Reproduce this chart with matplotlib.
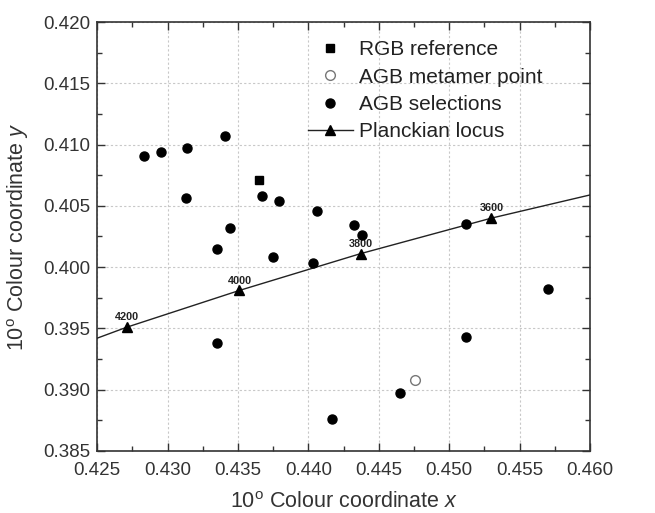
import matplotlib
matplotlib.use('Agg')
import matplotlib.pyplot as plt
from matplotlib.ticker import MultipleLocator

plt.rcParams['font.family'] = ['Liberation Sans', 'DejaVu Sans']
plt.rcParams['mathtext.fontset'] = 'custom'
plt.rcParams['mathtext.rm'] = 'Liberation Sans'
plt.rcParams['mathtext.it'] = 'Liberation Sans:italic'

# RGB reference point
rgb_x = [0.4365]
rgb_y = [0.4071]

# AGB metamer point
metamer_x = [0.4476]
metamer_y = [0.3908]

# AGB selections
sel_x = [0.4283, 0.4295, 0.4314, 0.4341, 0.4313, 0.4367, 0.4379, 0.4406,
         0.4344, 0.4432, 0.4438, 0.4512, 0.4335, 0.4375, 0.4403, 0.4335,
         0.4570, 0.4512, 0.4465, 0.4417]
sel_y = [0.4091, 0.4094, 0.4097, 0.4107, 0.4056, 0.4058, 0.4054, 0.4046,
         0.4032, 0.4034, 0.4026, 0.4035, 0.4015, 0.4008, 0.4003, 0.3938,
         0.3982, 0.3943, 0.3897, 0.3876]

# Planckian locus (CCT in K), ends run past the axes
locus_T = [4400, 4200, 4000, 3800, 3600, 3400]
locus_x = [0.4191, 0.4271, 0.4351, 0.4437, 0.4530, 0.4630]
locus_y = [0.3917, 0.3951, 0.3981, 0.4011, 0.4040, 0.4067]
labelled_T = [4200, 4000, 3800, 3600]

fig = plt.figure(figsize=(6.55, 5.13), dpi=100)
ax = fig.add_axes([0.1485, 0.1209, 0.7523, 0.8362])

ax.plot(rgb_x, rgb_y, 's', color='black', markersize=6, label='RGB reference', zorder=4)
ax.plot(metamer_x, metamer_y, 'o', markerfacecolor='white', markeredgecolor='#777777',
        markeredgewidth=1.0, markersize=7, label='AGB metamer point', zorder=4)
ax.plot(sel_x, sel_y, 'o', color='black', markersize=6.5, label='AGB selections', zorder=4)
ax.plot(locus_x, locus_y, '-^', color='#222222', linewidth=1.0, markersize=6.5,
        markerfacecolor='black', markeredgecolor='black', label='Planckian locus', zorder=3)

for t, x, y in zip(locus_T, locus_x, locus_y):
    if t in labelled_T:
        ax.annotate(str(t), (x, y), xytext=(0, 3.5), textcoords='offset points',
                    ha='center', va='bottom', fontsize=7.8, fontweight='bold',
                    color='#222222')

ax.set_xlim(0.425, 0.460)
ax.set_ylim(0.385, 0.420)
ax.xaxis.set_major_locator(MultipleLocator(0.005))
ax.xaxis.set_minor_locator(MultipleLocator(0.0025))
ax.yaxis.set_major_locator(MultipleLocator(0.005))
ax.yaxis.set_minor_locator(MultipleLocator(0.0025))
ax.xaxis.set_major_formatter(plt.FormatStrFormatter('%.3f'))
ax.yaxis.set_major_formatter(plt.FormatStrFormatter('%.3f'))

ax.tick_params(which='both', direction='in', top=True, right=True, width=1.0,
               color='#333333', labelsize=13.5, labelcolor='#333333')
ax.tick_params(which='major', length=6)
ax.tick_params(which='minor', length=3.5)
ax.tick_params(axis='x', pad=8)
ax.tick_params(axis='y', pad=5)

ax.grid(True, which='major', linestyle=(0, (2, 2)), color='#c8c8c8', linewidth=0.8)
for s in ax.spines.values():
    s.set_linewidth(1.2)
    s.set_color('#333333')

ax.set_xlabel('10$^{\\mathrm{o}}$ Colour coordinate $\\mathit{x}$', fontsize=15.5,
              color='#333333', labelpad=9.5)
ax.set_ylabel('10$^{\\mathrm{o}}$ Colour coordinate $\\mathit{y}$', fontsize=15.5,
              color='#333333', labelpad=9)

leg = ax.legend(loc='upper left', bbox_to_anchor=(0.427, 0.957), frameon=False,
                fontsize=15, borderpad=0, borderaxespad=0, handlelength=2.16,
                handletextpad=0.29, labelspacing=0.4, numpoints=1)
for txt in leg.get_texts():
    txt.set_color('#222222')

fig.savefig('out.png', dpi=100)
